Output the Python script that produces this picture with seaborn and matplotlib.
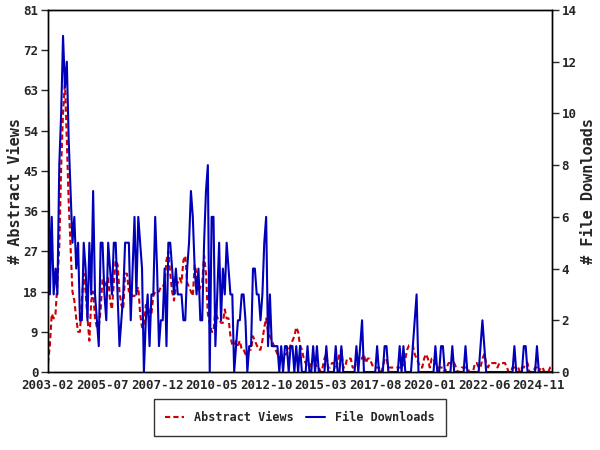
import pandas as pd
import matplotlib
matplotlib.use("Agg")
import matplotlib.pyplot as plt
import seaborn as sns

# -------------------------------------------------
# DATA (monthly, 2003-02 .. 2025-06)
# -------------------------------------------------
months = pd.date_range("2003-02-01", periods=269, freq="MS")

abstract_views = [
    2, 6, 13, 12, 13, 20, 28, 46, 58, 65, 52, 38, 28, 18, 16, 12, 9, 9, 16, 22,
    18, 12, 7, 16, 18, 12, 10, 10, 14, 21, 19, 20,
    21, 16, 14, 20, 25, 24, 18, 15, 14, 22, 22, 18, 18, 17, 17, 18, 19, 13, 10, 10,
    15, 15, 13, 13, 17, 18, 18, 18, 19, 19, 20, 25, 27, 22, 18, 16,
    19, 20, 21, 20, 25, 26, 20, 19, 18, 17, 24, 22, 18, 19, 20, 26, 22, 13, 11, 9,
    9, 14, 12, 12, 11, 11, 14, 12, 12, 8, 6, 6, 7, 6,
    7, 5, 5, 4, 4, 5, 5, 8, 7, 6, 5, 5, 7, 10, 12, 9, 8, 7, 6, 5,
    4, 4, 3, 3, 4, 4, 5, 6, 7, 8, 10, 9, 6, 5,
    3, 2, 1, 1, 2, 2, 2, 1, 1, 0, 1, 3, 4, 1, 1, 2, 2, 1, 2, 4,
    5, 1, 1, 3, 3, 3, 1, 1, 1, 2, 3, 3, 4, 2,
    3, 3, 2, 1, 1, 1, 1, 0, 1, 3, 3, 1, 1, 1, 1, 1, 1, 1, 1, 1,
    3, 5, 6, 6, 6, 4, 3, 2, 1, 1, 3, 4, 3, 1,
    3, 3, 2, 1, 1, 1, 1, 0, 1, 2, 2, 2, 2, 1, 0, 0, 1, 1, 1, 1,
    0, 0, 0, 2, 2, 1, 1, 3, 4, 2, 1, 2, 2, 2,
    2, 1, 2, 2, 2, 2, 1, 0, 0, 1, 1, 1, 1, 0, 1, 1, 2, 2, 0, 0,
    0, 1, 1, 0, 1, 1, 0, 0, 0, 1, 1,
]

file_downloads = [
    11, 3, 6, 3, 4, 3, 8, 10, 13, 11, 12, 9, 7, 5, 6, 4, 5, 2, 2, 5,
    4, 2, 5, 3, 7, 3, 2, 1, 5, 5, 3, 2,
    5, 4, 3, 5, 5, 3, 1, 2, 3, 5, 5, 5, 2, 4, 6, 3, 6, 5, 4, 0,
    2, 3, 1, 3, 3, 6, 4, 1, 2, 2, 4, 1, 5, 5, 4, 3,
    4, 3, 3, 3, 2, 2, 4, 5, 7, 6, 4, 3, 4, 2, 2, 5, 7, 8, 0, 6,
    6, 1, 3, 5, 2, 4, 3, 5, 4, 3, 3, 0, 1, 2,
    2, 3, 3, 2, 0, 1, 1, 4, 4, 3, 3, 2, 3, 5, 6, 1, 3, 1, 1, 1,
    1, 0, 1, 0, 1, 1, 0, 1, 1, 0, 1, 0, 1, 0,
    0, 0, 1, 0, 0, 1, 0, 1, 0, 0,
    0, 0, 1, 0, 0, 0, 0, 1, 0, 0,
    1, 0, 0, 0, 0, 0, 0, 0, 1, 0,
    1, 2, 0, 0, 0, 0, 0, 0, 0, 1,
    0, 0, 0, 1, 1, 0, 0, 0, 0, 0,
    0, 1, 0, 1, 0, 0, 0, 0, 1, 2,
    3, 0, 0, 0, 0, 0, 0, 0, 0, 0,
    1, 0, 0, 1, 1, 0, 0, 0, 0, 1,
    0, 0, 0, 0, 0, 0, 1, 0, 0, 0,
    0, 0, 0, 0, 1, 2, 1, 0, 0, 0,
    0, 0, 0, 0, 0, 0, 0, 0, 0, 0,
    0, 0, 1, 0, 0, 0, 0, 1, 1, 0,
    0, 0, 0, 0, 1, 0, 0, 0, 0, 0,
    0, 0, 0,
]

df = pd.DataFrame({
    "idx": range(len(months)),
    "views": abstract_views,
    "downloads": file_downloads,
})

tick_idx = list(range(0, len(months), 29))
tick_labels = [months[i].strftime("%Y-%m") for i in tick_idx]

# -------------------------------------------------
# STYLE
# -------------------------------------------------
sns.set_style("white")
plt.rcParams["font.family"] = ["DejaVu Sans Mono"]
plt.rcParams["font.weight"] = "bold"
plt.rcParams["axes.labelweight"] = "bold"

red = "#cc0000"
blue = "#0000bb"

fig = plt.figure(figsize=(6, 4.5), dpi=100)
ax = fig.add_axes([0.08, 1 - 372 / 450, 0.84, 362 / 450])
ax2 = ax.twinx()

sns.lineplot(data=df, x="idx", y="views", ax=ax, color=red, linewidth=1.5,
             linestyle="--", label="Abstract Views", legend=False)
sns.lineplot(data=df, x="idx", y="downloads", ax=ax2, color=blue, linewidth=1.5,
             label="File Downloads", legend=False)
ax.lines[0].set_dashes((2.5, 1.5))

# -------------------------------------------------
# AXES
# -------------------------------------------------
ax.set_xlim(0, len(months) - 1)
ax.set_ylim(0, 81)
ax2.set_ylim(0, 14)
ax.set_yticks(range(0, 82, 9))
ax2.set_yticks(range(0, 15, 2))
ax.set_xticks(tick_idx)
ax.set_xticklabels(tick_labels)
ax.set_xticks(range(len(months)), minor=True)

ax.tick_params(axis="x", which="major", direction="inout", length=8, width=1,
               labelsize=9, pad=1)
ax.tick_params(axis="x", which="minor", direction="inout", length=5, width=1)
ax.tick_params(axis="y", direction="out", length=5, width=1, labelsize=9, pad=2)
ax2.tick_params(axis="y", direction="out", length=5, width=1, labelsize=9, pad=2)

ax.set_xlabel("")
ax.set_ylabel("# Abstract Views", fontsize=11, labelpad=0)
ax2.set_ylabel("# File Downloads", fontsize=11, labelpad=3)

for a in (ax, ax2):
    for s in a.spines.values():
        s.set_color("black")
        s.set_linewidth(1)

# -------------------------------------------------
# LEGEND
# -------------------------------------------------
handles = ax.get_lines()[:1] + ax2.get_lines()[:1]
leg = fig.legend(handles, ["Abstract Views", "File Downloads"], loc="center",
                 bbox_to_anchor=(0.5, 1 - 417.5 / 450), ncol=2, frameon=True,
                 fancybox=False, edgecolor="black", fontsize=8.5,
                 handlelength=1.6, columnspacing=1.1, borderpad=1.0,
                 handletextpad=0.8)
leg.get_frame().set_linewidth(1)

fig.savefig("out.png", dpi=100)
